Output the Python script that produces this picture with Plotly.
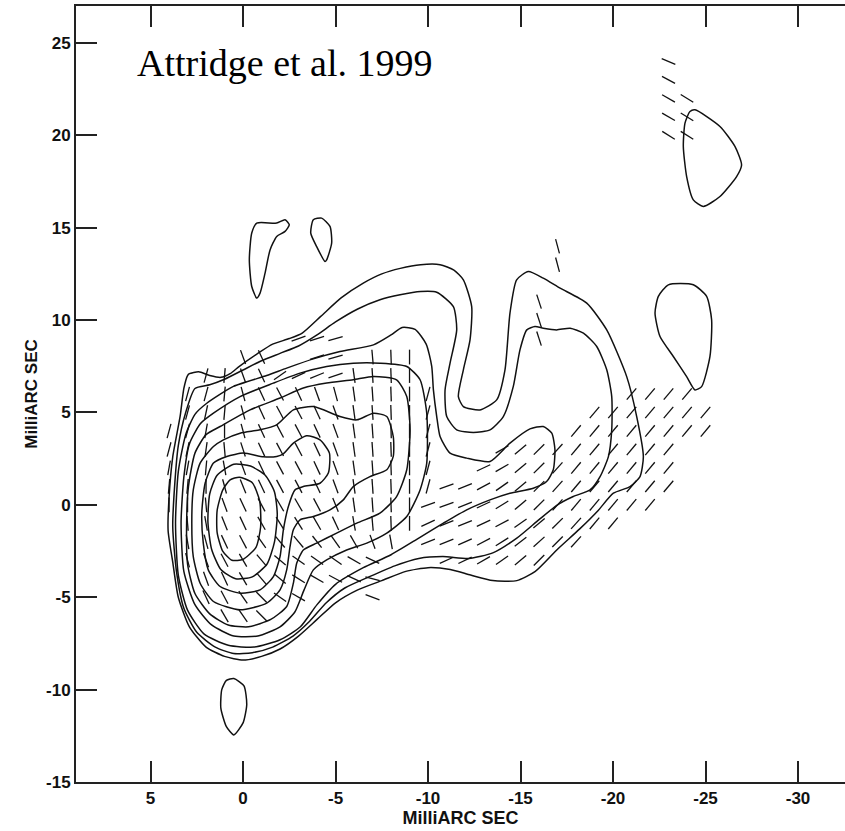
import math
import plotly.graph_objects as go

# ---------------- contour data (mas; x = relative RA, increasing to the east/left) ----------------
L1_X = [2.9, 2.4, 1.8, 1.2, 0.7, 0.2, -0.8, -1.6, -2.5, -3.2, -4.2, -5.3, -6.5, -7.5, -8.5, -9.6, -10.65, -11.4, -11.91, -12.36, -12.27, -11.91, -11.64, -11.91, -12.81, -13.71, -14.16, -14.43, -14.79, -15.42, -16.23, -17.14, -18.58, -19.66, -20.74, -21.28, -21.64, -21.46, -20.92, -20.02, -19.2, -18.2, -17.0, -15.8, -14.8, -13.5, -12.3, -11.2, -10.0, -8.8, -7.5, -6.2, -5.0, -4.0, -3.0, -2.0, -1.0, 0.0, 1.0, 2.0, 2.9, 3.5, 3.8, 4.05, 4.0, 3.8, 3.4, 3.2, 3.0, 2.9]
L1_Y = [7.1, 7.2, 7.0, 6.9, 7.1, 7.5, 8.2, 8.7, 9.0, 9.3, 10.2, 11.2, 12.0, 12.5, 12.8, 13.0, 13.0, 12.7, 12.18, 10.73, 8.93, 7.31, 5.86, 5.32, 5.14, 5.68, 7.31, 10.38, 12.18, 12.63, 12.27, 11.73, 10.92, 9.47, 6.94, 4.78, 2.61, 1.53, 0.99, 0.63, -0.3, -1.3, -2.4, -3.6, -4.1, -4.1, -3.8, -3.5, -3.4, -3.6, -4.1, -4.6, -5.3, -6.2, -7.1, -7.8, -8.2, -8.4, -8.2, -7.7, -6.6, -5.0, -3.1, -1.4, 0.4, 2.6, 4.8, 6.3, 7.0, 7.1]

L2_X = [2.6, 1.8, 1.0, 0.0, -1.0, -2.0, -3.0, -4.0, -5.0, -6.2, -7.4, -8.49, -9.6, -10.47, -11.37, -11.55, -11.19, -10.92, -11.01, -11.55, -12.45, -13.35, -14.07, -14.61, -14.97, -15.34, -15.78, -16.23, -16.95, -17.68, -18.4, -19.12, -19.66, -19.93, -19.93, -19.75, -19.3, -18.76, -17.85, -17.0, -16.0, -14.8, -13.5, -12.2, -10.8, -9.5, -8.2, -6.8, -5.5, -4.5, -3.6, -2.7, -1.6, -0.5, 0.5, 1.5, 2.5, 3.2, 3.6, 3.8, 3.7, 3.5, 3.1, 2.6]
L2_Y = [6.3, 6.5, 6.8, 7.3, 7.8, 8.2, 8.6, 9.2, 9.9, 10.6, 11.1, 11.37, 11.55, 11.51, 10.73, 9.47, 7.67, 6.22, 4.78, 4.06, 3.92, 4.06, 4.78, 6.41, 8.39, 9.47, 9.65, 9.56, 9.47, 9.56, 9.29, 8.57, 7.31, 5.86, 4.06, 2.61, 1.53, 0.81, 0.45, 0.0, -0.8, -1.8, -2.6, -2.9, -2.8, -2.9, -3.3, -3.9, -4.5, -5.3, -6.3, -7.1, -7.7, -8.0, -8.05, -7.7, -6.9, -5.6, -3.6, -1.2, 1.0, 3.2, 5.0, 6.3]

L3_X = [1.96, 0.52, -1.28, -2.36, -3.8, -5.24, -7.05, -8.0, -8.6, -9.3, -9.9, -10.2, -10.29, -10.47, -10.65, -11.19, -12.09, -13.35, -14.43, -15.51, -16.23, -16.69, -16.86, -16.77, -16.41, -15.69, -14.43, -13.35, -12.09, -10.83, -9.5, -8.0, -6.5, -5.0, -4.0, -3.1, -2.0, -0.6, 0.8, 2.1, 3.0, 3.5, 3.65, 3.5, 3.1, 2.6, 1.96]
L3_Y = [5.5, 6.41, 7.0, 7.4, 7.9, 8.3, 8.66, 9.2, 9.6, 9.5, 8.7, 7.5, 6.22, 4.78, 3.7, 2.8, 2.53, 2.35, 3.34, 4.11, 4.24, 3.88, 2.98, 1.9, 1.26, 0.9, 0.63, 0.27, -0.27, -0.99, -1.8, -2.7, -3.4, -4.3, -5.4, -6.6, -7.3, -7.7, -7.6, -7.0, -5.7, -3.8, -1.0, 1.8, 3.8, 4.9, 5.5]

L4_X = [1.6, 0.16, -1.64, -3.08, -4.52, -5.96, -7.4, -8.85, -9.57, -9.93, -9.93, -9.57, -8.85, -7.77, -6.69, -5.6, -4.52, -3.8, -3.3, -2.8, -2.0, -0.8, 0.5, 1.7, 2.6, 3.2, 3.35, 3.2, 2.9, 2.3, 1.6]
L4_Y = [4.96, 5.86, 6.59, 7.13, 7.49, 7.67, 7.67, 7.49, 6.77, 4.96, 2.26, 0.81, -0.63, -1.53, -2.07, -2.44, -2.98, -3.52, -4.6, -5.8, -6.6, -7.1, -7.1, -6.5, -5.4, -3.6, -1.0, 1.5, 3.3, 4.4, 4.96]

L5_X = [1.24, -0.38, -2.0, -3.26, -4.52, -5.96, -7.05, -8.3, -8.85, -9.03, -8.85, -8.3, -7.4, -6.15, -5.06, -3.98, -3.26, -2.9, -2.72, -2.36, -1.5, -0.3, 0.8, 1.8, 2.6, 3.0, 3.05, 2.95, 2.6, 2.0, 1.24]
L5_Y = [4.24, 5.14, 5.78, 6.32, 6.59, 6.77, 6.95, 6.77, 5.86, 4.06, 1.9, 0.45, -0.45, -0.99, -1.53, -2.07, -2.44, -3.16, -4.24, -5.5, -6.2, -6.6, -6.5, -5.9, -4.8, -3.2, -1.0, 1.0, 2.8, 3.8, 4.24]

L6_X = [1.06, 0.16, -0.92, -1.82, -2.72, -3.8, -5.24, -6.15, -7.05, -7.77, -8.12, -8.12, -7.77, -6.86, -5.96, -5.42, -4.7, -3.8, -3.08, -2.72, -2.54, -2.36, -2.0, -1.28, 0.16, 1.6, 2.32, 2.69, 2.77, 2.69, 2.32, 1.6, 1.06]
L6_Y = [3.52, 3.88, 4.06, 4.33, 5.14, 5.32, 4.78, 4.6, 4.96, 4.78, 3.7, 2.62, 1.9, 1.53, 0.99, 0.27, -0.27, -0.63, -0.81, -1.35, -2.26, -3.52, -4.6, -5.32, -5.68, -5.23, -4.24, -2.8, -0.99, 0.81, 2.26, 3.16, 3.52]

L7_X = [2.05, 1.6, 0.88, -0.02, -1.1, -1.82, -2.18, -2.72, -3.44, -4.16, -4.67, -4.61, -4.16, -3.26, -2.81, -2.45, -2.18, -2.0, -1.64, -0.92, 0.16, 1.24, 1.88, 2.15, 2.23, 2.05]
L7_Y = [1.17, 2.26, 2.62, 2.8, 2.6, 2.62, 2.76, 3.34, 3.74, 3.52, 2.8, 1.72, 1.17, 0.99, 0.81, -0.09, -1.35, -2.8, -3.88, -4.6, -4.78, -4.42, -3.52, -2.07, -0.45, 1.17]

L8_X = [0.5, -0.4, -1.2, -1.7, -1.85, -1.7, -1.3, -0.5, 0.4, 1.2, 1.7, 1.9, 1.8, 1.4, 0.5]
L8_Y = [2.2, 2.1, 1.6, 0.7, -0.5, -2.0, -3.2, -3.9, -4.0, -3.5, -2.4, -0.9, 0.6, 1.6, 2.2]

L9_X = [0.2, -0.5, -0.9, -0.95, -0.7, 0.0, 0.6, 1.1, 1.4, 1.4, 1.1, 0.7, 0.2]
L9_Y = [1.5, 1.2, 0.2, -1.2, -2.3, -2.95, -3.0, -2.5, -1.5, -0.3, 0.8, 1.35, 1.5]

ISL_A_X = [-0.74, -1.82, -2.27, -2.5, -2.27, -1.82, -1.46, -1.19, -0.92, -0.74, -0.47, -0.34, -0.47, -0.74]
ISL_A_Y = [15.25, 15.25, 15.43, 15.16, 14.8, 14.53, 13.8, 12.54, 11.46, 11.19, 11.82, 13.26, 14.71, 15.25]
ISL_B_X = [-3.8, -4.25, -4.7, -4.79, -4.52, -4.43, -3.98, -3.66, -3.8]
ISL_B_Y = [15.43, 15.52, 15.07, 14.17, 13.26, 13.17, 13.98, 14.71, 15.43]
ISL_C_X = [0.5, -0.05, -0.2, 0.0, 0.5, 0.9, 1.2, 1.15, 0.9, 0.5]
ISL_C_Y = [-9.4, -9.8, -10.8, -11.8, -12.45, -12.0, -11.0, -10.0, -9.5, -9.4]
ISL_D_X = [-24.43, -25.78, -26.59, -26.95, -26.68, -25.78, -24.88, -24.34, -23.98, -23.8, -23.89, -24.16, -24.43]
ISL_D_Y = [21.38, 20.48, 19.4, 18.4, 17.77, 16.69, 16.15, 16.51, 17.77, 19.4, 20.66, 21.29, 21.38]
ISL_E_X = [-22.99, -24.34, -25.06, -25.33, -25.24, -24.79, -24.43, -23.98, -23.26, -22.54, -22.27, -22.45, -22.99]
ISL_E_Y = [11.91, 11.91, 11.28, 10.02, 8.03, 6.4, 6.22, 6.94, 8.03, 9.11, 10.38, 11.28, 11.91]

CONTOURS = [(L1_X, L1_Y), (L2_X, L2_Y), (L3_X, L3_Y), (L4_X, L4_Y), (L5_X, L5_Y),
            (L6_X, L6_Y), (L7_X, L7_Y), (L8_X, L8_Y), (L9_X, L9_Y),
            (ISL_A_X, ISL_A_Y), (ISL_B_X, ISL_B_Y), (ISL_C_X, ISL_C_Y),
            (ISL_D_X, ISL_D_Y), (ISL_E_X, ISL_E_Y)]

# ---------------- polarization vectors: rows of grid positions (mas) and position angles (deg) ----------------
VEC_ROWS = {
    24: ([-23], [67]),
    23: ([-23], [62]),
    22: ([-23, -24], [60, 58]),
    21: ([-23, -24], [60, 58]),
    20: ([-23, -24], [58, 58]),
    14: ([-17], [15]),
    13: ([-17], [15]),
    11: ([-16], [18]),
    10: ([-16], [18]),
    9: ([-3, -4, -5, -16], [-70, -72, -74, 18]),
    8: ([0, -1, -4, -5, -7, -8, -9], [20, 25, -72, -74, 5, 2, 0]),
    7: ([2, 1, 0, -1, -2, -3, -4, -5, -6, -7, -8, -9], [-15, -5, 20, 25, -55, -65, -68, -72, 8, 4, 2, 0]),
    6: ([3, 2, 1, 0, -1, -2, -3, -4, -5, -6, -7, -8, -9, -10, -21, -22, -23, -24],
        [-15, -15, -5, 15, 25, 28, 25, 20, 15, 8, 4, 2, 0, -15, -40, -40, -40, -40]),
    5: ([3, 2, 1, 0, -1, -2, -3, -4, -5, -6, -7, -8, -9, -10, -19, -20, -21, -22, -23, -24, -25],
        [-15, -12, -5, 15, 25, 28, 28, 25, 20, 8, 4, 2, 0, -15, -40, -40, -40, -40, -40, -40, -40]),
    4: ([4, 3, 2, 1, 0, -1, -2, -3, -4, -5, -6, -7, -8, -9, -10, -18, -19, -20, -21, -22, -23, -24, -25],
        [-15, -15, -10, 0, 15, 25, 28, 28, 25, 20, 8, 4, 2, 0, -15, -40, -40, -40, -40, -40, -40, -40, -40]),
    3: ([4, 3, 2, 1, 0, -1, -2, -3, -4, -5, -6, -7, -8, -9, -10, -14, -15, -16, -17, -18, -19, -20, -21, -22, -23],
        [-15, -12, -8, 5, 18, 25, 28, 28, 25, 20, 8, 4, 2, 0, -15, -60, -50, -45, -42, -40, -40, -40, -40, -40, -40]),
    2: ([4, 3, 2, 1, 0, -1, -2, -3, -4, -5, -6, -7, -8, -9, -10, -13, -14, -15, -16, -17, -18, -19, -20, -21, -22, -23],
        [-10, -10, -5, 10, 20, 25, 28, 28, 25, 20, 8, 4, 2, 0, -15, -65, -60, -50, -45, -42, -40, -40, -40, -40, -40, -40]),
    1: ([4, 3, 2, 1, 0, -1, -2, -3, -4, -5, -6, -7, -8, -9, -10, -11, -12, -13, -14, -15, -16, -17, -18, -19, -20, -21, -22, -23],
        [-5, -5, 0, 15, 22, 25, 28, 28, 25, 20, 8, 4, 2, 0, -15, -70, -68, -62, -55, -50, -45, -42, -40, -40, -40, -40, -40, -40]),
    0: ([4, 3, 2, 1, 0, -1, -2, -3, -4, -5, -6, -7, -8, -9, -10, -11, -12, -13, -14, -15, -16, -17, -18, -19, -20, -21, -22],
        [0, 0, 5, 20, 25, 28, 30, 30, 28, 22, 8, 4, 2, 0, -70, -70, -68, -65, -58, -50, -45, -42, -40, -40, -40, -40, -40]),
    -1: ([3, 2, 1, 0, -1, -2, -3, -4, -5, -6, -7, -8, -9, -10, -11, -12, -13, -14, -15, -16, -17, -18, -19, -20],
         [5, 10, 22, 25, 30, 32, 32, 30, 25, 10, 5, 2, 0, -65, -68, -68, -65, -62, -55, -50, -45, -42, -40, -40]),
    -2: ([3, 2, 1, 0, -1, -2, -3, -4, -5, -6, -7, -8, -10, -11, -12, -13, -14, -15, -16, -17, -18],
         [10, 15, 25, 28, 35, 40, 40, 38, 35, 30, 20, 10, -68, -68, -66, -62, -58, -52, -48, -45, -42]),
    -3: ([3, 2, 1, 0, -1, -2, -3, -4, -5, -6, -7, -11, -12, -13, -14, -15, -16],
         [15, 20, 28, 30, 40, 50, 55, 55, 55, 60, 65, -66, -64, -60, -55, -50, -45]),
    -4: ([2, 1, 0, -1, -2, -3, -4, -5, -6, -7], [20, 25, 30, 40, 50, 58, 60, 62, 65, 75]),
    -5: ([2, 1, 0, -1, -2, -3, -7], [25, 28, 35, 45, 55, 60, 70]),
    -6: ([1, 0, -1], [30, 35, 45]),
}

X_TICKS = [5, 0, -5, -10, -15, -20, -25, -30]
Y_TICKS = [-15, -10, -5, 0, 5, 10, 15, 20, 25]

VEC_HALF = 0.4  # half-length of a polarization tick, mas

fig = go.Figure()

for cx, cy in CONTOURS:
    fig.add_trace(go.Scatter(x=cx, y=cy, mode="lines", line=dict(color="#111111", width=1.5, shape="spline", smoothing=0.6),
                             hoverinfo="skip", showlegend=False))

vx, vy = [], []
for yrow, (xs, pas) in VEC_ROWS.items():
    for xc, pa in zip(xs, pas):
        a = math.radians(pa)
        dx = VEC_HALF * math.sin(a)
        dy = VEC_HALF * math.cos(a)
        vx += [xc + dx, xc - dx, None]
        vy += [yrow + dy, yrow - dy, None]
fig.add_trace(go.Scatter(x=vx, y=vy, mode="lines", line=dict(color="#111111", width=1.3),
                         hoverinfo="skip", showlegend=False))

axis_font = dict(family="Liberation Sans, Arial, sans-serif", size=17, color="#111111", weight="bold")

fig.update_layout(
    width=845, height=831,
    margin=dict(l=76, r=0, t=6, b=49),
    paper_bgcolor="white", plot_bgcolor="white",
    showlegend=False,
    xaxis=dict(range=[9.03, -32.54], tickvals=X_TICKS, ticktext=[str(v) for v in X_TICKS],
               ticks="inside", ticklen=21, tickwidth=1.5, tickcolor="#222",
               showline=True, linewidth=2, linecolor="#222", mirror="ticks",
               showgrid=False, zeroline=False, tickfont=axis_font,
               title=dict(text="MilliARC SEC", font=dict(family="Liberation Sans, Arial, sans-serif", size=18, color="#111", weight="bold"), standoff=2)),
    yaxis=dict(range=[-15, 27.0], tickvals=Y_TICKS, ticktext=[str(v) for v in Y_TICKS],
               ticks="inside", ticklen=21, tickwidth=1.5, tickcolor="#222",
               showline=True, linewidth=2, linecolor="#222", mirror=False,
               showgrid=False, zeroline=False, tickfont=axis_font,
               title=dict(text="MilliARC SEC", font=dict(family="Liberation Sans Narrow, Liberation Sans, Arial, sans-serif", size=17, color="#111", weight="bold"), standoff=4)),
    yaxis2=dict(range=[-15, 27.0], overlaying="y", side="right", tickvals=Y_TICKS,
                ticks="inside", ticklen=12, tickwidth=1.5, tickcolor="#222",
                showticklabels=False, showline=False, showgrid=False, zeroline=False),
    annotations=[dict(text="Attridge et al. 1999", x=5.84, y=23.9, xref="x", yref="y",
                      xanchor="left", yanchor="middle", showarrow=False,
                      font=dict(family="Liberation Serif, Times New Roman, serif", size=38, color="#000"))],
)

fig.write_html("out.html")
